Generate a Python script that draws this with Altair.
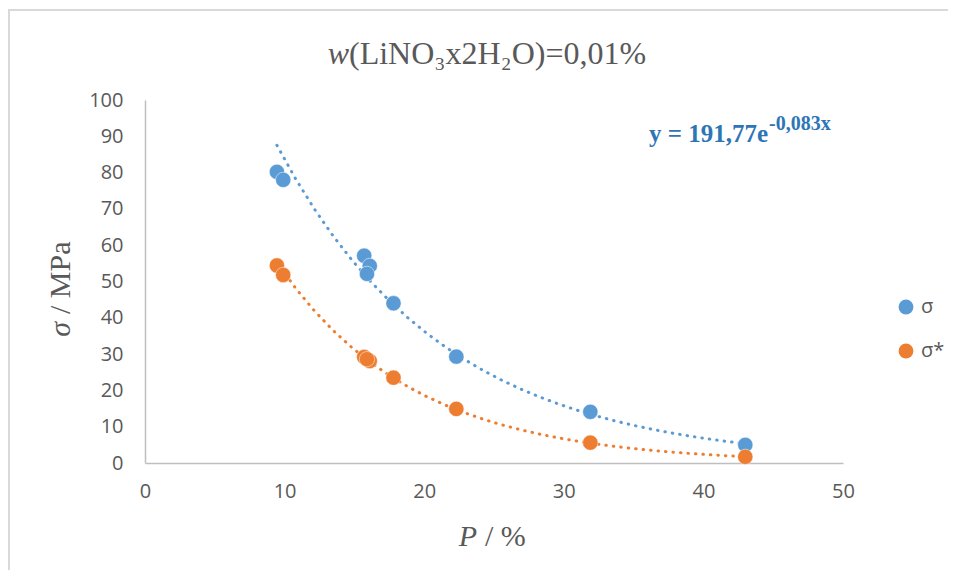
import altair as alt
import pandas as pd

# ---- data ----
series_names = ["σ", "σ*"]
series_colors = ["#5B9BD5", "#ED7D31"]

P_sigma = [9.45, 9.9, 15.7, 16.1, 15.9, 17.8, 22.3, 31.9, 43.0]
sigma = [80.2, 78.0, 57.1, 54.3, 52.1, 44.0, 29.3, 14.1, 5.0]

P_sigma_star = [9.45, 9.9, 15.7, 16.1, 15.9, 17.8, 22.3, 31.9, 43.0]
sigma_star = [54.4, 51.8, 29.2, 28.1, 28.6, 23.5, 14.9, 5.6, 1.7]

x_ticks = [0, 10, 20, 30, 40, 50]
y_ticks = [0, 10, 20, 30, 40, 50, 60, 70, 80, 90, 100]

title_italic = ["w"]
title_rest = ["(LiNO₃x2H₂O)=0,01%"]
ytitle_italic = ["σ"]
ytitle_rest = ["/ MPa"]
xtitle_italic = ["P"]
xtitle_rest = ["/ %"]
eq_main = ["y = 191,77e"]
eq_sup = ["-0,083x"]

rows = []
for p, v in zip(P_sigma, sigma):
    rows.append({"P": p, "value": v, "series": series_names[0]})
for p, v in zip(P_sigma_star, sigma_star):
    rows.append({"P": p, "value": v, "series": series_names[1]})
df = pd.DataFrame(rows)

W, H = 698, 363
PAD_L, PAD_T = 137, 92
PAD_R = 956 - 16 - PAD_L - W
PAD_B = 578 - 16 - PAD_T - H

GRAY = "#595959"

x_enc = alt.X(
    "P:Q",
    scale=alt.Scale(domain=[0, 50], nice=False),
    axis=alt.Axis(values=x_ticks, ticks=False, grid=False, domainColor="#BFBFBF",
                  domainWidth=1.5, labelColor=GRAY, labelFont="Open Sans",
                  labelFontSize=20, labelPadding=18, labelFlush=False,
                  labelOverlap=False, title=None),
)
y_scale = alt.Scale(domain=[0, 100], nice=False)
y_axis = alt.Axis(values=y_ticks, ticks=False, grid=False, domainColor="#BFBFBF",
                  domainWidth=1.5, labelColor=GRAY, labelFont="Open Sans",
                  labelFontSize=20, labelPadding=22, labelFlush=False,
                  labelOverlap=False, title=None)
color_enc = alt.Color(
    "series:N",
    scale=alt.Scale(domain=series_names, range=series_colors),
    legend=alt.Legend(orient="none", legendX=751, legendY=197, title=None,
                      symbolType="circle", symbolSize=220, labelFont="Open Sans",
                      labelFontSize=20, labelColor=GRAY, rowPadding=24,
                      labelOffset=5, symbolStrokeWidth=0, symbolOpacity=1,
                      symbolDash=[1, 0]),
)

base = alt.Chart(df)

trend = base.transform_calculate(
    lnv="log(datum.value)"
).transform_regression(
    "P", "lnv", method="poly", order=1, groupby=["series"]
).transform_calculate(
    fit="exp(datum.lnv)"
).mark_line(strokeDash=[0.5, 7], strokeCap="round", strokeWidth=3).encode(
    x=x_enc,
    y=alt.Y("fit:Q", scale=y_scale, axis=y_axis),
    color=color_enc,
)

points = base.mark_circle(size=235, opacity=1, stroke="white", strokeWidth=0.5).encode(
    x=x_enc,
    y=alt.Y("value:Q", scale=y_scale, axis=y_axis),
    color=color_enc,
)

one = pd.DataFrame({"k": [0]})
border = alt.Chart(one).mark_rect(fillOpacity=0, stroke="#D9D9D9", strokeWidth=2).encode(
    x=alt.value(-136), x2=alt.value(1000), y=alt.value(-90), y2=alt.value(700)
)


def txt(values, **kw):
    enc = {k: kw.pop(k) for k in ["x", "y"]}
    return alt.Chart(pd.DataFrame({"t": values})).mark_text(**kw).encode(
        text="t:N", x=alt.value(enc["x"]), y=alt.value(enc["y"])
    )


title_w = txt(title_italic, x=204, y=-36, align="right", baseline="alphabetic",
              font="Liberation Serif", fontSize=32, fontStyle="italic", color=GRAY)
title_r = txt(title_rest, x=204, y=-36, align="left", baseline="alphabetic",
              font="Liberation Serif", fontSize=32, color=GRAY)

ytit_i = txt(ytitle_italic, x=-75, y=222, align="right", baseline="alphabetic", angle=270,
             font="Liberation Serif", fontSize=30, fontStyle="italic", color=GRAY)
ytit_r = txt(ytitle_rest, x=-75, y=214, align="left", baseline="alphabetic", angle=270,
             font="Liberation Serif", fontSize=30, color=GRAY)

xtit_i = txt(xtitle_italic, x=332, y=446, align="right", baseline="alphabetic",
             font="Liberation Serif", fontSize=30, fontStyle="italic", color=GRAY)
xtit_r = txt(xtitle_rest, x=340, y=446, align="left", baseline="alphabetic",
             font="Liberation Serif", fontSize=30, color=GRAY)

eq1 = txt(eq_main, x=623, y=42, align="right", baseline="alphabetic",
          font="Liberation Serif", fontSize=25, fontWeight="bold", color="#2E75B6")
eq2 = txt(eq_sup, x=624, y=30, align="left", baseline="alphabetic",
          font="Liberation Serif", fontSize=20, fontWeight="bold", color="#2E75B6")

chart = alt.layer(
    border, trend, points, title_w, title_r, ytit_i, ytit_r, xtit_i, xtit_r, eq1, eq2
).properties(
    width=W, height=H, autosize="none",
    padding={"left": PAD_L, "top": PAD_T, "right": PAD_R, "bottom": PAD_B},
).configure_view(strokeWidth=0)

chart.save("out.html", embed_options={"renderer": "svg", "actions": False})
